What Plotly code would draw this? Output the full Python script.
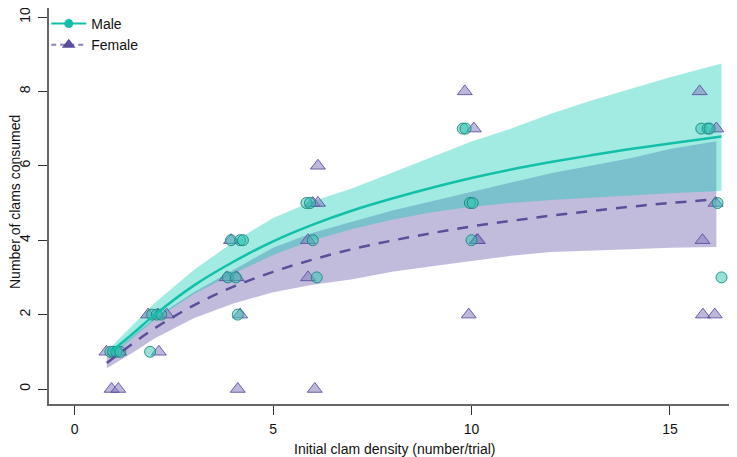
import plotly.graph_objects as go

# ---- observed points (jittered densities) ----
male_x = [0.90, 0.97, 1.05, 1.15, 1.90, 1.95, 2.07, 2.18, 3.94, 4.17, 4.24, 3.86, 4.06, 4.11,
          5.84, 5.93, 6.00, 6.10, 9.78, 9.85, 9.96, 10.03, 10.00, 15.79, 15.95, 16.00, 16.20, 16.30]
male_y = [1, 1, 1, 1, 1, 2, 2, 2, 4, 4, 4, 3, 3, 2,
          5, 5, 4, 3, 7, 7, 5, 5, 4, 7, 7, 7, 5, 3]

female_x = [0.93, 1.10, 0.80, 1.12, 2.12, 1.85, 2.10, 2.32, 3.94, 3.83, 4.08, 4.17, 4.11,
            6.13, 6.00, 6.13, 5.88, 5.88, 6.05, 9.83, 10.06, 10.13, 10.16, 9.93,
            15.75, 16.17, 16.15, 15.82, 15.83, 16.13]
female_y = [0, 0, 1, 1, 1, 2, 2, 2, 4, 3, 3, 2, 0,
            6, 5, 5, 4, 3, 0, 8, 7, 4, 4, 2,
            8, 7, 5, 4, 2, 2]

# ---- fitted curves and confidence bands ----
male_fit_x = [0.89, 1.5, 2, 3, 4, 5, 6, 7, 8, 9, 10, 11, 12, 13, 14, 15, 16.3]
male_fit = [0.98, 1.52, 1.98, 2.78, 3.42, 3.97, 4.42, 4.80, 5.12, 5.41, 5.67, 5.90, 6.10, 6.28, 6.45, 6.60, 6.79]
male_upper = [1.10, 1.75, 2.30, 3.20, 3.95, 4.60, 5.05, 5.40, 5.82, 6.25, 6.65, 7.00, 7.40, 7.75, 8.06, 8.38, 8.75]
male_lower = [0.85, 1.40, 1.85, 2.55, 3.10, 3.60, 4.00, 4.30, 4.55, 4.75, 4.90, 5.00, 5.08, 5.15, 5.20, 5.26, 5.32]

female_fit_x = [0.81, 1.5, 2, 3, 4, 5, 6, 7, 8, 9, 10, 11, 12, 13, 14, 15, 16.17]
female_fit = [0.70, 1.25, 1.62, 2.25, 2.75, 3.15, 3.48, 3.76, 3.99, 4.19, 4.37, 4.52, 4.66, 4.78, 4.90, 5.00, 5.10]
female_upper = [0.85, 1.45, 1.90, 2.60, 3.20, 3.80, 4.20, 4.50, 4.80, 5.05, 5.30, 5.55, 5.80, 6.00, 6.20, 6.45, 6.66]
female_lower = [0.56, 1.00, 1.35, 1.90, 2.30, 2.60, 2.80, 2.95, 3.15, 3.30, 3.45, 3.58, 3.68, 3.72, 3.76, 3.80, 3.82]

x_ticks = [0, 5, 10, 15]
y_ticks = [0, 2, 4, 6, 8, 10]

TEAL = "#14BFAA"
PURPLE = "#5B4E9A"
FONT = "Liberation Sans, Arial, sans-serif"

fig = go.Figure()

# bands
fig.add_trace(go.Scatter(
    x=female_fit_x + female_fit_x[::-1], y=female_upper + female_lower[::-1],
    fill="toself", fillcolor="rgba(94,79,162,0.38)", line=dict(width=0),
    mode="lines", hoverinfo="skip", showlegend=False))
fig.add_trace(go.Scatter(
    x=male_fit_x + male_fit_x[::-1], y=male_upper + male_lower[::-1],
    fill="toself", fillcolor="rgba(0,200,180,0.37)", line=dict(width=0),
    mode="lines", hoverinfo="skip", showlegend=False))

# points
fig.add_trace(go.Scatter(
    x=female_x, y=female_y, mode="markers", showlegend=False,
    marker=dict(symbol="triangle-up", size=13, color="rgba(135,125,190,0.55)",
                line=dict(color="rgba(90,75,160,0.85)", width=1))))
fig.add_trace(go.Scatter(
    x=male_x, y=male_y, mode="markers", showlegend=False,
    marker=dict(symbol="circle", size=11, color="rgba(50,195,180,0.5)",
                line=dict(color="rgba(20,130,120,0.85)", width=1))))

# fitted lines
fig.add_trace(go.Scatter(
    x=male_fit_x, y=male_fit, mode="lines", line=dict(color=TEAL, width=2.5, shape="spline"),
    showlegend=False))
fig.add_trace(go.Scatter(
    x=female_fit_x, y=female_fit, mode="lines",
    line=dict(color=PURPLE, width=2.5, dash="11px,9px", shape="spline"), showlegend=False))

# legend entries
fig.add_trace(go.Scatter(
    x=[None], y=[None], mode="lines+markers", name="Male",
    line=dict(color=TEAL, width=2), marker=dict(symbol="circle", size=9, color=TEAL)))
fig.add_trace(go.Scatter(
    x=[None], y=[None], mode="lines+markers", name="Female",
    line=dict(color="#8A80BD", width=2, dash="5px,4px"),
    marker=dict(symbol="triangle-up", size=12, color=PURPLE)))

# page has an 8px body margin, so the figure is sized to fill the rest of the window
W, H = 729, 449
ML, MB = 41, 53
PW, PH = W - ML, H - MB

fig.update_layout(
    width=W, height=H,
    margin=dict(l=ML, r=0, t=0, b=MB),
    paper_bgcolor="white", plot_bgcolor="white",
    font=dict(family=FONT, size=14, color="#111"),
    legend=dict(x=-0.004, y=1.0, xanchor="left", yanchor="top", bgcolor="rgba(0,0,0,0)",
                font=dict(size=14), tracegroupgap=0, itemwidth=35),
    xaxis=dict(range=[-0.647, 16.69], tickvals=x_ticks, ticks="outside", ticklen=9,
               tickcolor="#333", showline=True, linecolor="#666", linewidth=1.5,
               showgrid=False, zeroline=False, automargin=False, ticklabelstandoff=2),
    yaxis=dict(range=[-0.403, 10.242], tickvals=y_ticks, ticks="outside", ticklen=9,
               tickcolor="#333", showline=True, linecolor="#666", linewidth=1.5,
               showgrid=False, zeroline=False, tickangle=-90, automargin=False,
               ticklabelstandoff=3, ticklabeloverflow="allow"),
    annotations=[
        dict(text="Initial clam density (number/trial)", xref="paper", yref="paper",
             x=(395 - 8 - ML) / PW, y=-(449 - 8 - PH) / PH, xanchor="center", yanchor="middle",
             showarrow=False, font=dict(size=14)),
        dict(text="Number of clams consumed", xref="paper", yref="paper",
             x=-(ML - 7) / PW, y=(PH - (202 - 8)) / PH, xanchor="center", yanchor="middle",
             textangle=-90, showarrow=False, font=dict(size=14)),
    ],
)

fig.write_html("out.html")
